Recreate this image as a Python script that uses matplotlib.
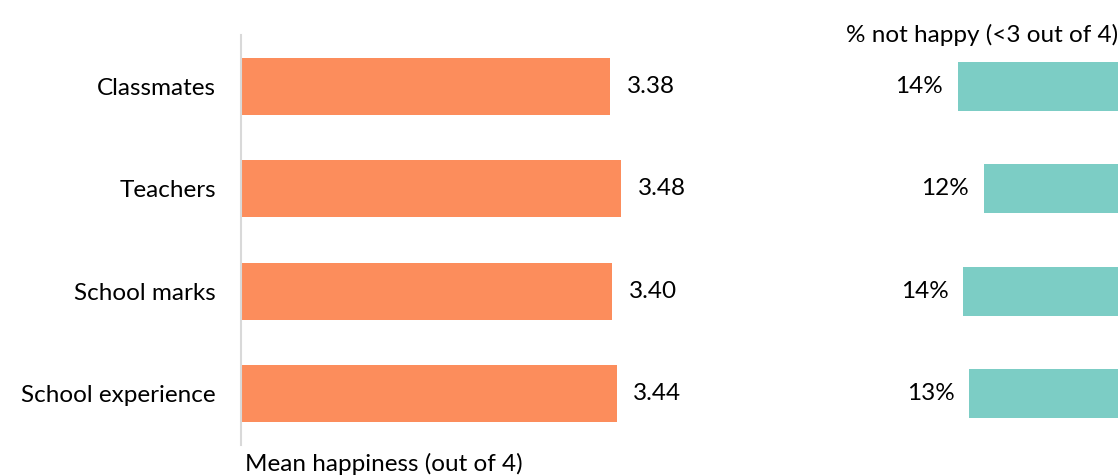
import matplotlib.pyplot as plt

plt.rcParams['font.family'] = ['Lato', 'DejaVu Sans']

categories = ['Classmates', 'Teachers', 'School marks', 'School experience']
mean_happiness = [3.38, 3.48, 3.40, 3.44]
mean_labels = ['3.38', '3.48', '3.40', '3.44']
pct_not_happy = [14.3, 12.0, 13.8, 13.3]
pct_labels = ['14%', '12%', '14%', '13%']

orange = '#fc8d5c'
teal = '#7ccdc5'
fs = 17.5

W, H = 1118, 476
fig = plt.figure(figsize=(W / 100, H / 100), dpi=100)

# left panel: mean happiness
ax1 = fig.add_axes([241 / W, 1 - 445 / H, 437 / W, 410 / H])
y = range(len(categories))
ax1.barh(y, mean_happiness, height=0.56, color=orange)
ax1.set_xlim(0, 4)
ax1.set_ylim(3.5, -0.5)
ax1.set_yticks(list(y))
ax1.set_yticklabels(categories, fontsize=fs)
ax1.tick_params(axis='y', length=0, pad=18)
ax1.set_xticks([])
for s in ['top', 'right', 'bottom']:
    ax1.spines[s].set_visible(False)
ax1.spines['left'].set_color('#d9d9d9')
ax1.spines['left'].set_linewidth(1.5)
for i, (v, lab) in enumerate(zip(mean_happiness, mean_labels)):
    ax1.text(v + 0.15, i, lab, va='center', ha='left', fontsize=fs)
ax1.text(0.04, 3.58, 'Mean happiness (out of 4)', ha='left', va='top', fontsize=fs)

# right panel: % not happy
ax2 = fig.add_axes([894 / W, 1 - 445 / H, 224 / W, 410 / H])
ax2.barh(y, pct_not_happy, height=0.48, color=teal)
ax2.set_xlim(20, 0)
ax2.set_ylim(3.5, -0.5)
ax2.axis('off')
for i, (v, lab) in enumerate(zip(pct_not_happy, pct_labels)):
    ax2.text(v + 1.3, i, lab, va='center', ha='right', fontsize=fs)
fig.text(1.0, 1 - 35 / H, '% not happy (<3 out of 4)', ha='right', va='center', fontsize=fs)

fig.savefig('out.png', dpi=100)
